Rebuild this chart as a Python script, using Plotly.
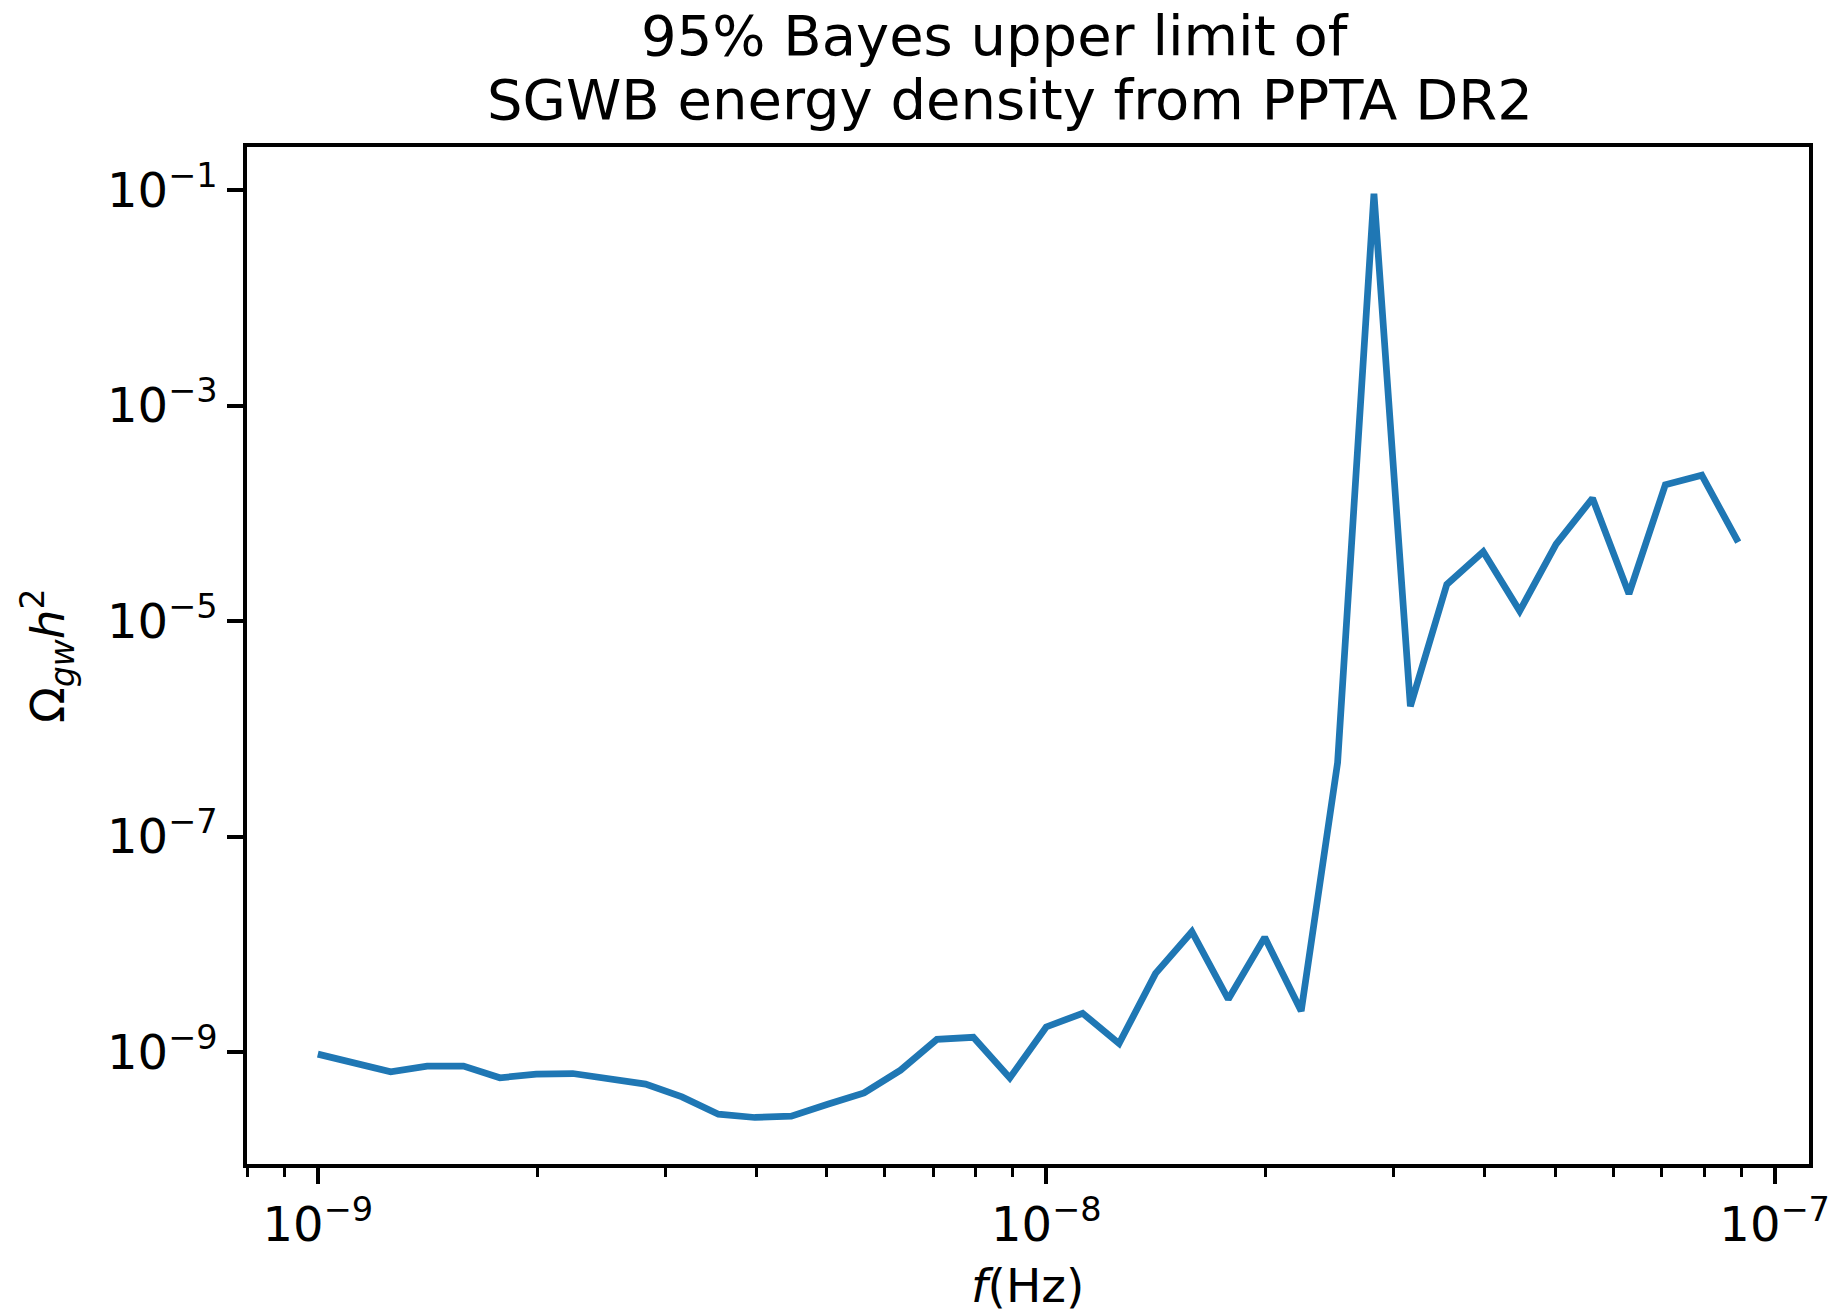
import plotly.graph_objects as go

# Frequencies (Hz), log-spaced
freq = [1.000e-9, 1.122e-9, 1.259e-9, 1.413e-9, 1.585e-9, 1.778e-9, 1.995e-9, 2.239e-9,
        2.512e-9, 2.818e-9, 3.162e-9, 3.548e-9, 3.981e-9, 4.467e-9, 5.012e-9, 5.623e-9,
        6.310e-9, 7.079e-9, 7.943e-9, 8.913e-9, 1.000e-8, 1.122e-8, 1.259e-8, 1.413e-8,
        1.585e-8, 1.778e-8, 1.995e-8, 2.239e-8, 2.512e-8, 2.818e-8, 3.162e-8, 3.548e-8,
        3.981e-8, 4.467e-8, 5.012e-8, 5.623e-8, 6.310e-8, 7.079e-8, 7.943e-8, 8.913e-8]

# 95% upper limit of Omega_gw h^2
omega = [9.57e-10, 8.00e-10, 6.55e-10, 7.40e-10, 7.40e-10, 5.77e-10, 6.24e-10, 6.32e-10,
         5.69e-10, 5.04e-10, 3.84e-10, 2.65e-10, 2.47e-10, 2.54e-10, 3.28e-10, 4.18e-10,
         6.79e-10, 1.31e-9, 1.37e-9, 5.75e-10, 1.71e-9, 2.29e-9, 1.20e-9, 5.37e-9,
         1.31e-8, 3.09e-9, 1.16e-8, 2.40e-9, 4.85e-7, 9.25e-2, 1.62e-6, 2.19e-5,
         4.40e-5, 1.24e-5, 5.18e-5, 1.38e-4, 1.79e-5, 1.84e-4, 2.26e-4, 5.40e-5]

x_tickvals = [1e-9, 1e-8, 1e-7]
x_ticktext = ["10<sup>\u22129</sup>", "10<sup>\u22128</sup>", "10<sup>\u22127</sup>"]
y_tickvals = [1e-9, 1e-7, 1e-5, 1e-3, 1e-1]
y_ticktext = ["10<sup>\u22129</sup>", "10<sup>\u22127</sup>", "10<sup>\u22125</sup>",
              "10<sup>\u22123</sup>", "10<sup>\u22121</sup>"]

title_line1 = "95% Bayes upper limit of"
title_line2 = "SGWB energy density from PPTA DR2"

minor_x = [m * 10.0 ** e for e in (-10, -9, -8) for m in range(2, 10)]

W, H = 1834, 1311
L, R, T, B = 247, 1809, 147, 1164
FONT = "DejaVu Sans"

fig = go.Figure()
fig.add_trace(go.Scatter(x=freq, y=omega, mode="lines",
                         line=dict(color="#1f77b4", width=6.75), showlegend=False))

axis_common = dict(showline=True, linecolor="black", linewidth=3.6, mirror=True,
                   showgrid=False, zeroline=False, ticks="outside", ticklen=16,
                   tickwidth=3.6, tickcolor="black",
                   tickfont=dict(family=FONT, size=48, color="black"))

fig.update_xaxes(type="log", range=[-9.0972, -6.9528], tickmode="array",
                 tickvals=x_tickvals, ticktext=x_ticktext,
                 minor=dict(tickvals=minor_x, ticks="outside", ticklen=9,
                            tickwidth=2.7, tickcolor="black"),
                 **axis_common)
fig.update_yaxes(type="log", range=[-10.039, -0.600], tickmode="array",
                 tickvals=y_tickvals, ticktext=y_ticktext, **axis_common)

pw, ph = R - L, B - T
def px_x(p):
    return (p - L) / pw
def px_y(p):
    return (B - p) / ph

annos = [
    dict(text=title_line1, x=px_x(995), y=px_y(36), font=dict(family=FONT, size=56, color="black")),
    dict(text=title_line2, x=px_x(1010), y=px_y(99), font=dict(family=FONT, size=56, color="black")),
    dict(text="<i>f</i>(Hz)", x=px_x(1027), y=px_y(1285), height=50,
         font=dict(family=FONT, size=47, color="black")),
    dict(text="\u03a9<sub><i>gw</i></sub><i>h</i><sup>2</sup>", x=px_x(47), y=px_y(656),
         textangle=-90, font=dict(family=FONT, size=47, color="black")),
]
for a in annos:
    fig.add_annotation(xref="paper", yref="paper", showarrow=False,
                       xanchor="center", yanchor="middle", **a)

fig.update_layout(width=W, height=H, margin=dict(l=L, r=W - R, t=T, b=H - B, autoexpand=False),
                  paper_bgcolor="white", plot_bgcolor="white",
                  font=dict(family=FONT, color="black"))

fig.write_html("out.html")
